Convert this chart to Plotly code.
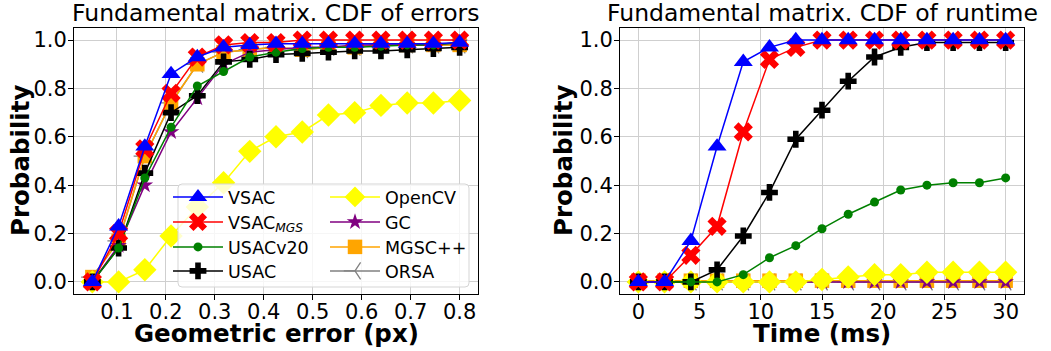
import plotly.graph_objects as go

W, H = 1051, 351

# ---------------- data ----------------
err_x = [0.05, 0.1036, 0.1571, 0.2107, 0.2643, 0.3179, 0.3714, 0.425, 0.4786,
         0.5321, 0.5857, 0.6393, 0.6929, 0.7464, 0.8]
time_x = [0.0, 2.14, 4.29, 6.43, 8.57, 10.71, 12.86, 15.0, 17.14, 19.29,
          21.43, 23.57, 25.71, 27.86, 30.0]

err_ticks = [0.1, 0.2, 0.3, 0.4, 0.5, 0.6, 0.7, 0.8]
time_ticks = [0, 5, 10, 15, 20, 25, 30]
prob_ticks = [0.0, 0.2, 0.4, 0.6, 0.8, 1.0]

vsac_err = [0.00, 0.23, 0.56, 0.86, 0.93, 0.97, 0.98, 0.985, 0.985, 0.985, 0.985, 0.985, 0.985, 0.985, 0.99]
vsacmgs_err = [0.00, 0.20, 0.55, 0.78, 0.93, 0.98, 0.99, 0.99, 1.00, 1.00, 1.00, 1.00, 1.00, 1.00, 1.00]
usacv20_err = [0.00, 0.14, 0.43, 0.64, 0.81, 0.87, 0.93, 0.95, 0.965, 0.97, 0.97, 0.975, 0.98, 0.98, 0.99]
usac_err = [0.00, 0.14, 0.45, 0.70, 0.77, 0.91, 0.92, 0.94, 0.945, 0.95, 0.955, 0.955, 0.96, 0.965, 0.97]
opencv_err = [0.00, 0.00, 0.05, 0.19, 0.31, 0.41, 0.54, 0.60, 0.62, 0.69, 0.70, 0.73, 0.74, 0.74, 0.75]
gc_err = [0.00, 0.15, 0.40, 0.62, 0.76, 0.90, 0.95, 0.96, 0.97, 0.97, 0.98, 0.98, 0.98, 0.98, 0.99]
mgsc_err = [0.02, 0.17, 0.52, 0.74, 0.90, 0.95, 0.96, 0.97, 0.96, 0.97, 0.97, 0.98, 0.98, 0.98, 0.98]
orsa_err = [0.02, 0.17, 0.52, 0.74, 0.90, 0.95, 0.96, 0.97, 0.96, 0.97, 0.97, 0.98, 0.98, 0.98, 0.98]

vsac_t = [0.00, 0.00, 0.17, 0.56, 0.91, 0.97, 1.00, 1.00, 1.00, 1.00, 1.00, 1.00, 1.00, 1.00, 1.00]
vsacmgs_t = [0.00, 0.00, 0.11, 0.23, 0.62, 0.92, 0.97, 1.00, 1.00, 1.00, 1.00, 1.00, 1.00, 1.00, 1.00]
usacv20_t = [0.00, 0.00, 0.00, 0.00, 0.03, 0.10, 0.15, 0.22, 0.28, 0.33, 0.38, 0.40, 0.41, 0.41, 0.43]
usac_t = [0.00, 0.00, 0.00, 0.05, 0.19, 0.37, 0.59, 0.71, 0.83, 0.93, 0.97, 0.99, 0.99, 0.99, 0.99]
opencv_t = [0.00, 0.00, 0.00, 0.00, 0.00, 0.00, 0.00, 0.01, 0.02, 0.03, 0.03, 0.04, 0.04, 0.04, 0.04]
gc_t = [0.00] * 15
mgsc_t = [0.005] * 15
orsa_t = [0.00] * 15

names = ["VSAC", "VSAC<sub><i>MGS</i></sub>", "USACv20", "USAC",
         "OpenCV", "GC", "MGSC++", "ORSA"]

# ---------------- styles ----------------
styles = {
    "VSAC": dict(color="blue", symbol="triangle-up", size=16.5),
    "VSAC<sub><i>MGS</i></sub>": dict(color="red", symbol="x", size=17),
    "USACv20": dict(color="green", symbol="circle", size=9),
    "USAC": dict(color="black", symbol="cross", size=14),
    "OpenCV": dict(color="yellow", symbol="diamond", size=18),
    "GC": dict(color="purple", symbol="star", size=12.5),
    "MGSC++": dict(color="orange", symbol="square", size=14.5),
    "ORSA": dict(color="gray", symbol="y-left", size=14),
}
err_data = dict(zip(names, [vsac_err, vsacmgs_err, usacv20_err, usac_err,
                            opencv_err, gc_err, mgsc_err, orsa_err]))
time_data = dict(zip(names, [vsac_t, vsacmgs_t, usacv20_t, usac_t,
                             opencv_t, gc_t, mgsc_t, orsa_t]))

def px_x(p):
    return p / W

def px_y(p):
    return 1 - p / H

font_family = "DejaVu Sans"

# legend layout: 2 columns x 4 rows, one legend per entry
col_text_x = [230, 387]
row_y = [197, 222, 247, 271]
ITEMW = 50
legend_ids = ["legend"] + [f"legend{i}" for i in range(2, 9)]

fig = go.Figure()
draw_order = list(reversed(names))
for nm in draw_order:
    st = styles[nm]
    idx = names.index(nm)
    if st["symbol"] == "y-left":
        marker = dict(symbol=st["symbol"], size=st["size"],
                      line=dict(color=st["color"], width=1.3), color=st["color"])
    else:
        marker = dict(symbol=st["symbol"], size=st["size"], color=st["color"],
                      line=dict(width=0))
    fig.add_trace(go.Scatter(x=err_x, y=err_data[nm], mode="lines+markers",
                             name=nm, line=dict(color=st["color"], width=1.5),
                             marker=marker, xaxis="x", yaxis="y",
                             legend=legend_ids[idx], showlegend=True))
    fig.add_trace(go.Scatter(x=time_x, y=time_data[nm], mode="lines+markers",
                             name=nm, line=dict(color=st["color"], width=1.5),
                             marker=marker, xaxis="x2", yaxis="y2",
                             showlegend=False))

axis_common = dict(showline=True, linecolor="black", linewidth=1, mirror=True,
                   ticks="outside", ticklen=5, tickcolor="black", tickwidth=1,
                   showgrid=True, gridcolor="#cfcfcf", gridwidth=1, zeroline=False,
                   tickfont=dict(size=21, color="black", family=font_family),
                   automargin=False)

layout = dict(
    width=W, height=H,
    margin=dict(l=0, r=0, t=0, b=0),
    paper_bgcolor="white", plot_bgcolor="white",
    font=dict(family=font_family, color="black"),
    xaxis=dict(domain=[px_x(74), px_x(478)], range=[0.0125, 0.8375],
               tickvals=err_ticks, tickformat=".1f", ticklabelstandoff=-6,
               anchor="y", **axis_common),
    yaxis=dict(domain=[px_y(294), px_y(28)], range=[-0.05, 1.05],
               tickvals=prob_ticks, tickformat=".1f", ticklabelstandoff=-3,
               anchor="x", **axis_common),
    xaxis2=dict(domain=[px_x(620), px_x(1024)], range=[-1.5, 31.5],
                tickvals=time_ticks, ticklabelstandoff=-6,
                anchor="y2", **axis_common),
    yaxis2=dict(domain=[px_y(294), px_y(28)], range=[-0.05, 1.05],
                tickvals=prob_ticks, tickformat=".1f", ticklabelstandoff=-3,
                anchor="x2", **axis_common),
    showlegend=True,
)
for i, lid in enumerate(legend_ids):
    col, row = divmod(i, 4)
    layout[lid] = dict(x=px_x(col_text_x[col] - ITEMW - 12), y=px_y(row_y[row]),
                       xanchor="left", yanchor="middle",
                       bgcolor="rgba(0,0,0,0)", borderwidth=0,
                       itemwidth=ITEMW, valign="middle",
                       font=dict(size=17.5, color="black", family=font_family))
fig.update_layout(**layout)

# legend frame (rounded, semi-transparent)
x0, x1, y0, y1 = 178, 469, 184, 287
r = 4
path = (f"M {px_x(x0 + r)},{px_y(y0)} L {px_x(x1 - r)},{px_y(y0)} "
        f"Q {px_x(x1)},{px_y(y0)} {px_x(x1)},{px_y(y0 + r)} "
        f"L {px_x(x1)},{px_y(y1 - r)} Q {px_x(x1)},{px_y(y1)} {px_x(x1 - r)},{px_y(y1)} "
        f"L {px_x(x0 + r)},{px_y(y1)} Q {px_x(x0)},{px_y(y1)} {px_x(x0)},{px_y(y1 - r)} "
        f"L {px_x(x0)},{px_y(y0 + r)} Q {px_x(x0)},{px_y(y0)} {px_x(x0 + r)},{px_y(y0)} Z")
fig.add_shape(type="path", path=path, xref="paper", yref="paper", layer="above",
              fillcolor="rgba(255,255,255,0.8)", line=dict(color="#d5d5d5", width=1))

# subplot titles
title_font = dict(size=23.5, color="black", family=font_family)
fig.add_annotation(text="Fundamental matrix. CDF of errors", x=px_x(276), y=px_y(13.5),
                   xref="paper", yref="paper", xanchor="center", yanchor="middle",
                   showarrow=False, font=title_font)
fig.add_annotation(text="Fundamental matrix. CDF of runtime", x=px_x(822), y=px_y(13.5),
                   xref="paper", yref="paper", xanchor="center", yanchor="middle",
                   showarrow=False, font=title_font)

# axis titles
ax_font = dict(size=24.5, color="black", family=font_family)
for txt, x, y in [("<b>Geometric error (px)</b>", 276.5, 333),
                  ("<b>Time (ms)</b>", 822, 333)]:
    fig.add_annotation(text=txt, x=px_x(x), y=px_y(y), xref="paper", yref="paper",
                       xanchor="center", yanchor="middle", showarrow=False, font=ax_font)
for x in [20, 563]:
    fig.add_annotation(text="<b>Probability</b>", x=px_x(x), y=px_y(161), xref="paper",
                       yref="paper", xanchor="center", yanchor="middle", textangle=-90,
                       showarrow=False, font=ax_font)

fig.write_html("out.html")
